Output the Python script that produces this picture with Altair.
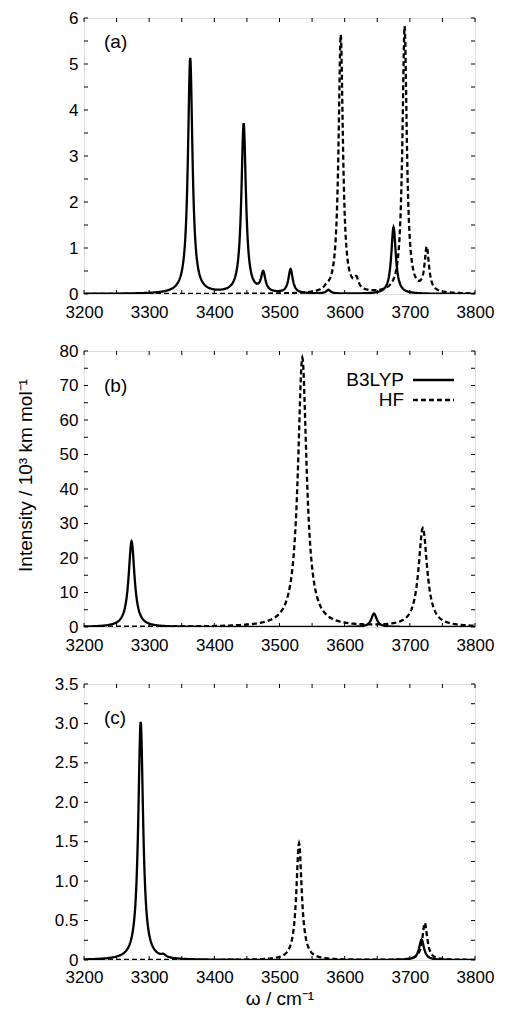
import altair as alt
import numpy as np
import pandas as pd

# ---------------- data ----------------
X_DOMAIN = [3200, 3800]
X_LABELS = [3200, 3300, 3400, 3500, 3600, 3700, 3800]
X_TICKS = list(range(3200, 3801, 50))

# panel (a)
a_b3lyp_pos = [3363, 3445, 3475, 3517, 3575, 3675]
a_b3lyp_int = [5.12, 3.69, 0.42, 0.52, 0.08, 1.45]
a_b3lyp_hw = [4.2, 4.2, 4.0, 4.0, 4.0, 4.2]
a_hf_pos = [3572, 3594, 3618, 3692, 3726]
a_hf_int = [0.05, 5.62, 0.22, 5.80, 0.95]
a_hf_hw = [4.0, 4.0, 4.0, 4.0, 4.0]
a_ymax = 6
a_ylabels = [0, 1, 2, 3, 4, 5, 6]
a_yticks = [i * 0.5 for i in range(13)]

# panel (b)
b_b3lyp_pos = [3273, 3645]
b_b3lyp_int = [24.8, 3.9]
b_b3lyp_hw = [5.5, 5.0]
b_hf_pos = [3535, 3720]
b_hf_int = [78.0, 28.6]
b_hf_hw = [8.0, 8.0]
b_ymax = 80
b_ylabels = [0, 10, 20, 30, 40, 50, 60, 70, 80]
b_yticks = list(range(0, 81, 5))

# panel (c)
c_b3lyp_pos = [3287, 3322, 3718]
c_b3lyp_int = [3.02, 0.03, 0.26]
c_b3lyp_hw = [4.5, 4.0, 4.5]
c_hf_pos = [3530, 3723]
c_hf_int = [1.48, 0.47]
c_hf_hw = [5.0, 4.5]
c_ymax = 3.5
c_ylabels = [0, 0.5, 1.0, 1.5, 2.0, 2.5, 3.0, 3.5]
c_yticks = [i * 0.25 for i in range(15)]

METHODS = ["B3LYP", "HF"]

# ---------------- layout / style ----------------
W, H = 391, 276
TL = 4
LW = 2.3
FONT = "Liberation Sans"
grid = np.arange(X_DOMAIN[0], X_DOMAIN[1] + 0.25, 0.5)


def broadened(pos, inten, hw):
    y = np.zeros_like(grid)
    for p, a, g in zip(pos, inten, hw):
        y += a / (1.0 + ((grid - p) / g) ** 2)
    return y


def spectrum_df(b_pos, b_int, b_hw, h_pos, h_int, h_hw):
    d1 = pd.DataFrame({"w": grid, "I": broadened(b_pos, b_int, b_hw), "method": "B3LYP"})
    d2 = pd.DataFrame({"w": grid, "I": broadened(h_pos, h_int, h_hw), "method": "HF"})
    return pd.concat([d1, d2], ignore_index=True)


dash_scale = alt.Scale(domain=METHODS, range=[[1, 0], [5, 3]])


def panel(df, ymax, ylabels, yticks, label, label_y, ylabel_expr,
          ytitle=None, xtitle=None, legend=False, xlabel_pad=10):
    xs = alt.Scale(domain=X_DOMAIN, nice=False, zero=False)
    ys = alt.Scale(domain=[0, ymax], nice=False, zero=True)
    xaxis_kw = dict(values=X_LABELS, ticks=False, domain=False, grid=False,
                    labelFontSize=17, labelFont=FONT, labelColor="black",
                    labelPadding=xlabel_pad, format="d", labelFlush=False,
                    labelOverlap=False)
    if xtitle:
        xaxis = alt.Axis(title=xtitle, titleFontSize=19, titleFont=FONT,
                         titleFontWeight="normal", titleColor="black",
                         titlePadding=4, **xaxis_kw)
    else:
        xaxis = alt.Axis(title=None, **xaxis_kw)
    yaxis_kw = dict(values=ylabels, ticks=False, domain=False, grid=False,
                    labelFontSize=17, labelFont=FONT, labelColor="black",
                    labelPadding=6, labelExpr=ylabel_expr, labelFlush=False,
                    labelOverlap=False)
    if ytitle:
        yaxis = alt.Axis(title=ytitle, titleFontSize=19, titleFont=FONT,
                         titleFontWeight="normal", titleColor="black",
                         titleX=-59, titleY=124, titleAngle=270,
                         titleBaseline="middle", titleAlign="center",
                         **yaxis_kw)
    else:
        yaxis = alt.Axis(title=None, **yaxis_kw)

    X = lambda: alt.X("w:Q", scale=xs, axis=xaxis)
    Y = lambda: alt.Y("I:Q", scale=ys, axis=yaxis)

    lines = alt.Chart(df).mark_line(color="black", strokeWidth=LW, clip=True).encode(
        x=X(), y=Y(),
        strokeDash=alt.StrokeDash("method:N", scale=dash_scale, legend=None),
    )

    xt = pd.DataFrame({"w": X_TICKS})
    yt = pd.DataFrame({"I": yticks})
    tick_bottom = alt.Chart(xt).mark_rule(color="black", strokeWidth=1).encode(
        x=X(), y=alt.value(H), y2=alt.value(H - TL))
    tick_top = alt.Chart(xt).mark_rule(color="black", strokeWidth=1).encode(
        x=X(), y=alt.value(0), y2=alt.value(TL))
    tick_left = alt.Chart(yt).mark_rule(color="black", strokeWidth=1).encode(
        y=Y(), x=alt.value(0), x2=alt.value(TL))
    tick_right = alt.Chart(yt).mark_rule(color="black", strokeWidth=1).encode(
        y=Y(), x=alt.value(W), x2=alt.value(W - TL))

    lab = alt.Chart(pd.DataFrame({"t": [label]})).mark_text(
        align="left", baseline="middle", fontSize=19, font=FONT, color="black"
    ).encode(x=alt.value(20), y=alt.value(label_y), text="t:N")

    layers = [lines, tick_bottom, tick_top, tick_left, tick_right, lab]

    if legend:
        leg_df = pd.DataFrame({"t": METHODS, "method": METHODS})
        for i, m in enumerate(METHODS):
            sub = leg_df[leg_df.method == m]
            yy = 29 + 20 * i
            layers.append(alt.Chart(sub).mark_text(
                align="right", baseline="middle", fontSize=19, font=FONT, color="black"
            ).encode(x=alt.value(320), y=alt.value(yy), text="t:N"))
            layers.append(alt.Chart(sub).mark_rule(color="black", strokeWidth=LW).encode(
                x=alt.value(329), x2=alt.value(370), y=alt.value(yy),
                strokeDash=alt.StrokeDash("method:N", scale=dash_scale, legend=None)))

    return alt.layer(*layers).properties(width=W, height=H)


df_a = spectrum_df(a_b3lyp_pos, a_b3lyp_int, a_b3lyp_hw, a_hf_pos, a_hf_int, a_hf_hw)
df_b = spectrum_df(b_b3lyp_pos, b_b3lyp_int, b_b3lyp_hw, b_hf_pos, b_hf_int, b_hf_hw)
df_c = spectrum_df(c_b3lyp_pos, c_b3lyp_int, c_b3lyp_hw, c_hf_pos, c_hf_int, c_hf_hw)

pa = panel(df_a, a_ymax, a_ylabels, a_yticks, "(a)", 24, "format(datum.value, 'd')")
pb = panel(df_b, b_ymax, b_ylabels, b_yticks, "(b)", 35, "format(datum.value, 'd')",
           ytitle="Intensity  / 10³ km mol⁻¹", legend=True)
pc = panel(df_c, c_ymax, c_ylabels, c_yticks, "(c)", 34,
           "datum.value == 0 ? '0' : format(datum.value, '.1f')",
           xtitle="ω / cm⁻¹", xlabel_pad=9)

chart = alt.vconcat(pa, pb, pc, spacing=20).properties(
    padding={"left": 7, "top": 0, "right": 0, "bottom": 0}
).configure_view(stroke="black", strokeWidth=1.3).configure(background="white")

chart.save("out.html", embed_options={"renderer": "svg", "actions": False})
